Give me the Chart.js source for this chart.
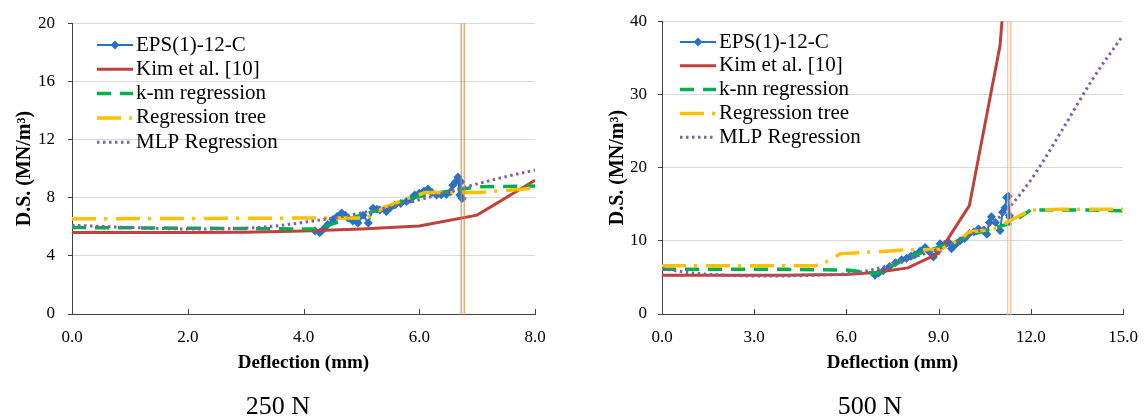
<!DOCTYPE html>
<html>
<head>
<meta charset="utf-8">
<script src="https://cdn.jsdelivr.net/npm/chart.js@4.4.0/dist/chart.umd.min.js"></script>
<style>
  body { margin: 0; background: #fff; }
  #wrap { position: relative; width: 1145px; height: 418px; overflow: hidden; font-family: 'Liberation Serif', 'Times New Roman', serif; }
  canvas { position: absolute; top: 0; }
  .cap { position: absolute; top: 391px; width: 200px; text-align: center; font-size: 26px; line-height: 30px; color: #000; }
</style>
</head>
<body>
<div id="wrap">
  <canvas id="c250" width="572" height="418" style="left:0"></canvas>
  <canvas id="c500" width="573" height="418" style="left:572px"></canvas>
  <div class="cap" style="left:178px">250 N</div>
  <div class="cap" style="left:770px">500 N</div>
</div>
<script>
// series names (legend order)
const seriesNames = ['EPS(1)-12-C', 'Kim et al. [10]', 'k-nn regression', 'Regression tree', 'MLP Regression'];

// ---- 250 N ----
const eps250X = [4.20, 4.28, 4.35, 4.42, 4.51, 4.58, 4.66, 4.72, 4.77, 4.85, 4.94, 5.03, 5.12, 5.20, 5.27, 5.32, 5.43, 5.50, 5.58, 5.68, 5.78, 5.85, 5.92, 6.00, 6.08, 6.15, 6.22, 6.30, 6.38, 6.47, 6.54, 6.58, 6.63, 6.67, 6.70, 6.72, 6.74];
const eps250Y = [5.70, 5.58, 5.85, 6.15, 6.50, 6.70, 6.95, 6.80, 6.60, 6.40, 6.26, 6.80, 6.26, 7.27, 7.20, 7.15, 7.05, 7.30, 7.50, 7.60, 7.73, 7.90, 8.18, 8.30, 8.45, 8.59, 8.35, 8.18, 8.20, 8.23, 8.40, 8.86, 9.10, 9.42, 8.18, 9.10, 7.95];
const kim250X = [0, 1, 2, 3, 4, 5, 6, 7, 8];
const kim250Y = [5.6, 5.6, 5.6, 5.62, 5.7, 5.85, 6.05, 6.8, 9.2];
const knn250X = [0, 2, 4, 4.2, 4.5, 5.0, 5.5, 5.8, 6.2, 6.6, 7.0, 8.0];
const knn250Y = [5.95, 5.9, 5.85, 5.85, 6.2, 6.8, 7.4, 7.9, 8.25, 8.5, 8.75, 8.8];
const tree250X = [0, 4.3, 4.6, 5.1, 5.4, 5.8, 6.1, 6.6, 7.0, 7.5, 8.0];
const tree250Y = [6.55, 6.6, 6.6, 6.6, 7.35, 7.95, 8.35, 8.35, 8.35, 8.5, 8.65];
const mlp250X = [0, 1, 2, 3, 3.5, 4, 4.5, 5, 5.5, 6, 6.5, 7, 7.5, 8];
const mlp250Y = [6.1, 5.95, 5.85, 5.9, 6.05, 6.3, 6.6, 6.95, 7.35, 7.85, 8.4, 8.95, 9.45, 9.9];
const xTicks250 = [0, 2, 4, 6, 8];
const yTicks250 = [0, 4, 8, 12, 16, 20];
const limit250 = 6.75;

// ---- 500 N ----
const eps500X = [6.93, 7.05, 7.20, 7.40, 7.60, 7.80, 7.96, 8.10, 8.23, 8.40, 8.56, 8.70, 8.83, 8.95, 9.05, 9.20, 9.32, 9.42, 9.55, 9.70, 9.85, 10.00, 10.15, 10.30, 10.45, 10.57, 10.65, 10.72, 10.85, 11.00, 11.08, 11.16, 11.22, 11.27, 11.30, 11.32];
const eps500Y = [5.3, 5.6, 5.9, 6.5, 7.0, 7.4, 7.6, 7.9, 8.1, 8.6, 9.1, 8.5, 7.8, 8.7, 9.6, 9.5, 9.8, 8.9, 9.5, 10.0, 10.3, 11.0, 11.2, 11.6, 11.4, 10.9, 12.5, 13.3, 12.5, 11.4, 13.9, 14.5, 15.9, 16.1, 13.5, 13.2];
const kim500X = [0, 1, 2, 3, 4, 5, 6, 7, 8, 9, 10, 11, 12];
const kim500Y = [5.3, 5.3, 5.3, 5.3, 5.3, 5.35, 5.4, 5.7, 6.3, 8.3, 14.8, 36.7, 90];
const knn500X = [0, 2, 4, 5, 6, 6.5, 7, 7.5, 8, 8.5, 9, 9.5, 10, 10.5, 11, 11.3, 12, 13, 14, 15];
const knn500Y = [6.1, 6.1, 6.1, 6.05, 6.0, 5.8, 5.55, 6.6, 7.7, 8.5, 9.1, 9.8, 10.7, 11.4, 12.0, 12.3, 14.2, 14.2, 14.2, 14.1];
const tree500X = [0, 5.0, 5.45, 5.8, 6.5, 7.0, 7.9, 8.7, 9.05, 9.7, 10.0, 10.8, 11.3, 12.0, 13.0, 15.0];
const tree500Y = [6.6, 6.6, 7.3, 8.25, 8.4, 8.5, 8.75, 8.8, 8.8, 10.2, 11.2, 11.6, 12.7, 14.2, 14.3, 14.3];
const mlp500X = [0, 1, 2, 3, 4, 5, 6, 7, 8, 9, 10, 11, 12, 13, 14, 15];
const mlp500Y = [6.2, 5.6, 5.3, 5.2, 5.2, 5.3, 5.5, 6.2, 7.5, 8.9, 10.7, 13.3, 18.3, 25.0, 32.0, 38.1];
const xTicks500 = [0, 3, 6, 9, 12, 15];
const yTicks500 = [0, 10, 20, 30, 40];
const limit500 = 11.3;

const FONT = "'Liberation Serif', 'Times New Roman', serif";
const AXIS = '#404040';
const styles = [
  { color: '#2672C4', width: 2, dash: [] },
  { color: '#C0403C', width: 3, dash: [] },
  { color: '#00B050', width: 3.5, dash: [14, 9] },
  { color: '#FFC000', width: 3.5, dash: [24, 8, 3, 9] },
  { color: '#7F60A0', width: 3, dash: [2.5, 3.5] }
];

function pairs(xs, ys) {
  return xs.map((x, i) => ({ x: x, y: ys[i] }));
}

// inward x ticks, limit lines, legend
const decor = {
  id: 'decor',
  afterDatasetsDraw(chart, args, opts) {
    const { ctx, chartArea: a, scales: { x } } = chart;
    ctx.save();
    ctx.strokeStyle = AXIS;
    ctx.lineWidth = 1;
    x.ticks.forEach(t => {
      const px = Math.round(x.getPixelForValue(t.value)) + 0.5;
      ctx.beginPath();
      ctx.moveTo(px, a.bottom);
      ctx.lineTo(px, a.bottom - 5);
      ctx.stroke();
    });

    const lx = x.getPixelForValue(opts.limit);
    ctx.strokeStyle = opts.limitColor;
    [-1.5, 1.5].forEach(d => {
      ctx.beginPath();
      ctx.moveTo(lx + d, a.top);
      ctx.lineTo(lx + d, a.bottom + 1);
      ctx.stroke();
    });

    ctx.font = '21px ' + FONT;
    ctx.textBaseline = 'middle';
    seriesNames.forEach((name, i) => {
      const s = styles[i];
      const y = opts.legendTop + i * opts.legendStep;
      ctx.setLineDash(s.dash);
      ctx.lineWidth = s.width;
      ctx.strokeStyle = s.color;
      ctx.beginPath();
      ctx.moveTo(opts.legendX, y);
      ctx.lineTo(opts.legendX + 36, y);
      ctx.stroke();
      ctx.setLineDash([]);
      if (i === 0) {
        const cx = opts.legendX + 18;
        ctx.fillStyle = s.color;
        ctx.beginPath();
        ctx.moveTo(cx, y - 4.5);
        ctx.lineTo(cx + 4.5, y);
        ctx.lineTo(cx, y + 4.5);
        ctx.lineTo(cx - 4.5, y);
        ctx.closePath();
        ctx.fill();
      }
      ctx.fillStyle = '#000';
      ctx.fillText(name, opts.legendX + 39, y);
    });
    ctx.restore();
  }
};

function makeChart(id, o) {
  const series = [[o.epsX, o.epsY], [o.kimX, o.kimY], [o.knnX, o.knnY], [o.treeX, o.treeY], [o.mlpX, o.mlpY]];
  const datasets = series.map((s, i) => ({
    label: seriesNames[i],
    data: pairs(s[0], s[1]),
    borderColor: styles[i].color,
    backgroundColor: styles[i].color,
    borderWidth: styles[i].width,
    borderDash: styles[i].dash,
    pointStyle: 'rectRot',
    pointRadius: i === 0 ? 4.5 : 0,
    pointBorderWidth: 0,
    tension: i === 4 ? 0.3 : 0,
    cubicInterpolationMode: i === 4 ? 'monotone' : 'default',
    order: 5 - i
  }));

  return new Chart(document.getElementById(id), {
    type: 'line',
    data: { datasets: datasets },
    options: {
      responsive: false,
      devicePixelRatio: 1,
      animation: false,
      layout: { padding: { top: 19, right: o.padRight, bottom: 0, left: 0 } },
      plugins: {
        legend: { display: false },
        tooltip: { enabled: false },
        decor: {
          limit: o.limit, limitColor: o.limitColor,
          legendX: o.legendX, legendTop: o.legendTop, legendStep: o.legendStep
        }
      },
      scales: {
        x: {
          type: 'linear',
          min: o.xTicks[0],
          max: o.xTicks[o.xTicks.length - 1],
          afterBuildTicks: s => { s.ticks = o.xTicks.map(v => ({ value: v })); },
          afterFit: s => { s.height = 104; s.paddingLeft = 0; s.paddingRight = 0; },
          grid: { display: false, drawTicks: false },
          border: { display: true, color: AXIS, width: 1 },
          ticks: {
            padding: 13, color: '#000', maxRotation: 0, autoSkip: false,
            font: { family: FONT, size: 17 },
            callback: v => Number(v).toFixed(1)
          },
          title: {
            display: true, text: 'Deflection (mm)', color: '#000',
            font: { family: FONT, size: 19, weight: 'bold' },
            padding: { top: 0, bottom: 44 }
          }
        },
        y: {
          min: o.yTicks[0],
          max: o.yTicks[o.yTicks.length - 1],
          afterBuildTicks: s => { s.ticks = o.yTicks.map(v => ({ value: v })); },
          afterFit: s => { s.width = o.yWidth; },
          grid: { color: '#D9D9D9', lineWidth: 1, drawTicks: true, tickLength: 4, tickColor: AXIS },
          border: { display: true, color: AXIS, width: 1 },
          ticks: {
            padding: o.yTickPad, color: '#000', autoSkip: false,
            font: { family: FONT, size: 17 }
          },
          title: {
            display: true, text: 'D.S. (MN/m³)', color: '#000',
            font: { family: FONT, size: 20, weight: 'bold' },
            padding: { top: o.yTitlePad, bottom: 0 }
          }
        }
      }
    },
    plugins: [decor]
  });
}

makeChart('c250', {
  epsX: eps250X, epsY: eps250Y, kimX: kim250X, kimY: kim250Y,
  knnX: knn250X, knnY: knn250Y, treeX: tree250X, treeY: tree250Y,
  mlpX: mlp250X, mlpY: mlp250Y,
  xTicks: xTicks250, yTicks: yTicks250, limit: limit250, limitColor: '#ED7D31',
  yWidth: 72, padRight: 37, yTickPad: 13, yTitlePad: 13,
  legendX: 97, legendTop: 45, legendStep: 24.3
});

makeChart('c500', {
  epsX: eps500X, epsY: eps500Y, kimX: kim500X, kimY: kim500Y,
  knnX: knn500X, knnY: knn500Y, treeX: tree500X, treeY: tree500Y,
  mlpX: mlp500X, mlpY: mlp500Y,
  xTicks: xTicks500, yTicks: yTicks500, limit: limit500, limitColor: '#F4B183',
  yWidth: 90, padRight: 22, yTickPad: 11, yTitlePad: 34,
  legendX: 108, legendTop: 42, legendStep: 23.8
});
</script>
</body>
</html>
